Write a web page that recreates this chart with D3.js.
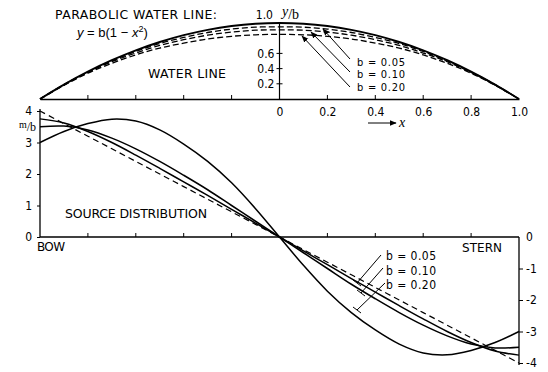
<!DOCTYPE html>
<html>
<head>
<meta charset="utf-8">
<script src="https://cdn.jsdelivr.net/npm/d3@7"></script>
<style>
  body { margin: 0; background: #fff; }
  svg { font-family: "DejaVu Sans", sans-serif; }
</style>
</head>
<body>
<div id="chart"></div>
<script>
// x positions along the body, bow (-1) to stern (1)
const xs = [-1, -0.9, -0.8, -0.7, -0.6, -0.5, -0.4, -0.3, -0.2, -0.1, 0, 0.1, 0.2, 0.3, 0.4, 0.5, 0.6, 0.7, 0.8, 0.9, 1];

// water line y/b
const waterParabola = [0, .19, .36, .51, .64, .75, .84, .91, .96, .99, 1, .99, .96, .91, .84, .75, .64, .51, .36, .19, 0];
const waterB005 = [0, .19, .355, .5, .625, .73, .81, .875, .92, .945, .95, .945, .92, .875, .81, .73, .625, .5, .355, .19, 0];
const waterB010 = [0, .185, .35, .49, .605, .705, .78, .84, .88, .905, .91, .905, .88, .84, .78, .705, .605, .49, .35, .185, 0];
const waterB020 = [0, .18, .34, .47, .58, .67, .735, .79, .825, .845, .85, .845, .825, .79, .735, .67, .58, .47, .34, .18, 0];

// source distribution m/b
const srcLinear = [4, 3.6, 3.2, 2.8, 2.4, 2, 1.6, 1.2, .8, .4, 0, -.4, -.8, -1.2, -1.6, -2, -2.4, -2.8, -3.2, -3.6, -4];
const srcB005 = [3.75, 3.62, 3.35, 3.0, 2.6, 2.18, 1.75, 1.32, .88, .44, 0, -.44, -.88, -1.32, -1.75, -2.18, -2.6, -3.0, -3.35, -3.62, -3.75];
const srcB010 = [3.5, 3.52, 3.4, 3.14, 2.8, 2.4, 1.96, 1.5, 1.0, .5, 0, -.5, -1.0, -1.5, -1.96, -2.4, -2.8, -3.14, -3.4, -3.52, -3.5];
const srcB020 = [3.0, 3.35, 3.6, 3.74, 3.68, 3.4, 2.95, 2.4, 1.72, .9, 0, -.9, -1.72, -2.4, -2.95, -3.4, -3.68, -3.74, -3.6, -3.35, -3.0];

const bLabels = ['b = 0.05', 'b = 0.10', 'b = 0.20'];
const topTicksY = [0.2, 0.4, 0.6];
const topTicksX = [0, 0.2, 0.4, 0.6, 0.8, 1.0];
const innerTicksX = [-0.8, -0.6, -0.4, -0.2, 0.2, 0.4, 0.6, 0.8];
const leftTicks = [0, 1, 2, 3, 4];
const rightTicks = [0, -1, -2, -3, -4];

const W = 548, H = 372;
const svg = d3.select('#chart').append('svg').attr('width', W).attr('height', H);

const defs = svg.append('defs');
defs.append('marker').attr('id', 'arr').attr('viewBox', '0 0 10 10')
   .attr('refX', 9).attr('refY', 5).attr('markerWidth', 7).attr('markerHeight', 7)
   .attr('orient', 'auto-start-reverse')
   .append('path').attr('d', 'M0,1 L10,5 L0,9 Z').attr('fill', '#000');

//scales
const xScale = d3.scaleLinear().domain([-1, 1]).range([40, 519]);
const yTop = d3.scaleLinear().domain([0, 1]).range([99, 23]);
const yBot = d3.scaleLinear().domain([-4, 4]).range([363, 111]);

const tick = (sel) => sel.selectAll('text').style('font-size', '12px').style('font-family', '"DejaVu Sans Condensed", "DejaVu Sans", sans-serif');

// ---------- top panel ----------
const gTop = svg.append('g');

// horizontal axis
gTop.append('g').attr('transform', `translate(0,${yTop(0)})`)
   .call(d3.axisBottom(xScale).tickValues(topTicksX).tickSize(0).tickPadding(8)
      .tickFormat(d => d === 0 ? '0' : d3.format('.1f')(d)).tickSizeOuter(0))
   .call(g => g.select('.domain').attr('stroke-width', 1.3))
   .call(tick);
gTop.append('g').selectAll('line').data(innerTicksX).join('line')
   .attr('x1', d => xScale(d)).attr('x2', d => xScale(d))
   .attr('y1', yTop(0)).attr('y2', yTop(0) - 4)
   .attr('stroke', '#000');

// vertical axis y/b
gTop.append('line').attr('x1', xScale(0)).attr('x2', xScale(0))
   .attr('y1', yTop(0)).attr('y2', yTop(1)).attr('stroke', '#000').attr('stroke-width', 1.2);
gTop.append('g').selectAll('line').data(topTicksY).join('line')
   .attr('x1', xScale(0) - 3).attr('x2', xScale(0) + 3)
   .attr('y1', d => yTop(d)).attr('y2', d => yTop(d)).attr('stroke', '#000');
gTop.append('g').selectAll('text').data(topTicksY).join('text')
   .attr('x', xScale(0) - 5).attr('y', d => yTop(d)).attr('dy', '0.35em')
   .attr('text-anchor', 'end').style('font-size', '12px')
   .style('font-family', '"DejaVu Sans Condensed", sans-serif')
   .text(d => d.toFixed(1));
gTop.append('text').attr('x', 273).attr('y', 19).attr('text-anchor', 'end')
   .style('font-size', '12px').style('font-family', '"DejaVu Sans Condensed", sans-serif').text('1.0');
const yb = gTop.append('text').attr('x', 282).attr('y', 16).style('font-size', '14px')
   .style('font-family', '"Liberation Serif", serif');
yb.append('tspan').style('font-style', 'italic').text('y');
yb.append('tspan').attr('dy', 3).text('/b');

// x arrow label
gTop.append('line').attr('x1', 368).attr('x2', 396).attr('y1', 123).attr('y2', 123)
   .attr('stroke', '#000').attr('marker-end', 'url(#arr)');
gTop.append('text').attr('x', 399).attr('y', 127).style('font-size', '14px')
   .style('font-style', 'italic').style('font-family', '"Liberation Serif", serif').text('x');

const lineTop = (vals) => d3.line().x((d, i) => xScale(xs[i])).y(d => yTop(d)).curve(d3.curveCatmullRom)(vals);

[waterB005, waterB010, waterB020].forEach(v => {
   gTop.append('path').attr('d', lineTop(v)).attr('fill', 'none')
      .attr('stroke', '#000').attr('stroke-width', 1.3).attr('stroke-dasharray', '6 3');
});
gTop.append('path').attr('d', lineTop(waterParabola)).attr('fill', 'none')
   .attr('stroke', '#000').attr('stroke-width', 1.9);

// text
gTop.append('text').attr('x', 55).attr('y', 19).attr('textLength', 162)
   .style('font-size', '12.5px').text('PARABOLIC WATER LINE:');
const eq = gTop.append('text').attr('x', 77).attr('y', 37).style('font-size', '13px')
   .style('font-family', '"Liberation Sans", sans-serif');
eq.append('tspan').style('font-style', 'italic').text('y');
eq.append('tspan').text(' = b(1 \u2212 ');
eq.append('tspan').style('font-style', 'italic').text('x');
eq.append('tspan').attr('dy', -5).style('font-size', '9px').text('2');
eq.append('tspan').attr('dy', 5).text(')');
gTop.append('text').attr('x', 148).attr('y', 78).attr('textLength', 78)
   .style('font-size', '12.5px').text('WATER LINE');

// top legend
const topLegY = [66, 78, 91];
gTop.append('g').selectAll('text').data(bLabels).join('text')
   .attr('x', 357).attr('y', (d, i) => topLegY[i]).attr('textLength', 48)
   .style('font-size', '11px').style('font-family', '"DejaVu Sans Condensed", sans-serif')
   .text(d => d);
const topArrows = [[350, 59, 323, 29], [350, 72, 311, 32], [350, 87, 302, 36]];
gTop.append('g').selectAll('line').data(topArrows).join('line')
   .attr('x1', d => d[0]).attr('y1', d => d[1]).attr('x2', d => d[2]).attr('y2', d => d[3])
   .attr('stroke', '#000').attr('stroke-width', 1).attr('marker-end', 'url(#arr)');

// ---------- bottom panel ----------
const gBot = svg.append('g');

gBot.append('line').attr('x1', xScale(-1)).attr('x2', xScale(1))
   .attr('y1', yBot(0)).attr('y2', yBot(0)).attr('stroke', '#000').attr('stroke-width', 1.3);
gBot.append('g').selectAll('line').data(innerTicksX).join('line')
   .attr('x1', d => xScale(d)).attr('x2', d => xScale(d))
   .attr('y1', yBot(0)).attr('y2', yBot(0) - 4).attr('stroke', '#000');

gBot.append('g').attr('transform', `translate(${xScale(-1)},0)`)
   .call(d3.axisLeft(yBot).tickValues(leftTicks).tickSize(3).tickPadding(5).tickSizeOuter(0).tickFormat(d3.format('d')))
   .call(g => g.select('.domain').attr('d', `M0,${yBot(0)}V${yBot(4) - 2}`).attr('stroke-width', 1.3))
   .call(tick);
gBot.append('g').attr('transform', `translate(${xScale(1)},0)`)
   .call(d3.axisRight(yBot).tickValues(rightTicks).tickSize(4).tickPadding(3).tickSizeOuter(0)
      .tickFormat(d => d === 0 ? '0' : '-' + Math.abs(d)))
   .call(g => g.select('.domain').attr('d', `M0,${yBot(0)}V${yBot(-4) + 2}`).attr('stroke-width', 1.3))
   .call(g => g.selectAll('.tick').filter(d => d === 0).select('line').remove())
   .call(tick);

const mb = gBot.append('text').attr('x', 19).attr('y', 131).style('font-size', '12px')
   .style('font-family', '"Liberation Serif", serif');
mb.append('tspan').attr('dy', -3).style('font-size', '10px').text('m');
mb.append('tspan').attr('dy', 3).text('/b');

const lineBot = (vals) => d3.line().x((d, i) => xScale(xs[i])).y(d => yBot(d)).curve(d3.curveCatmullRom)(vals);

gBot.append('path').attr('d', lineBot(srcLinear)).attr('fill', 'none')
   .attr('stroke', '#000').attr('stroke-width', 1.2).attr('stroke-dasharray', '6 4');
[srcB005, srcB010, srcB020].forEach(v => {
   gBot.append('path').attr('d', lineBot(v)).attr('fill', 'none')
      .attr('stroke', '#000').attr('stroke-width', 1.5);
});

gBot.append('text').attr('x', 65).attr('y', 218).attr('textLength', 142)
   .style('font-size', '12.5px').text('SOURCE DISTRIBUTION');
gBot.append('text').attr('x', 37).attr('y', 251).attr('textLength', 28)
   .style('font-size', '12px').text('BOW');
gBot.append('text').attr('x', 462).attr('y', 252).attr('textLength', 40)
   .style('font-size', '12px').text('STERN');

// bottom legend
const botLegY = [260, 275, 289];
gBot.append('g').selectAll('text').data(bLabels).join('text')
   .attr('x', 386).attr('y', (d, i) => botLegY[i]).attr('textLength', 50)
   .style('font-size', '12px').style('font-family', '"DejaVu Sans Condensed", sans-serif')
   .text(d => d);
const botArrows = [[381, 255, 357, 283], [383, 268, 361, 293], [385, 283, 357, 310]];
gBot.append('g').selectAll('line').data(botArrows).join('line')
   .attr('x1', d => d[0]).attr('y1', d => d[1]).attr('x2', d => d[2]).attr('y2', d => d[3])
   .attr('stroke', '#000').attr('stroke-width', 1);
// small bars where the leaders meet the curves
gBot.append('g').selectAll('line.bar').data(botArrows).join('line')
   .attr('class', 'bar')
   .attr('x1', d => d[2] - 4).attr('y1', d => d[3] - 3)
   .attr('x2', d => d[2] + 4).attr('y2', d => d[3] + 3)
   .attr('stroke', '#000').attr('stroke-width', 1);
</script>
</body>
</html>
